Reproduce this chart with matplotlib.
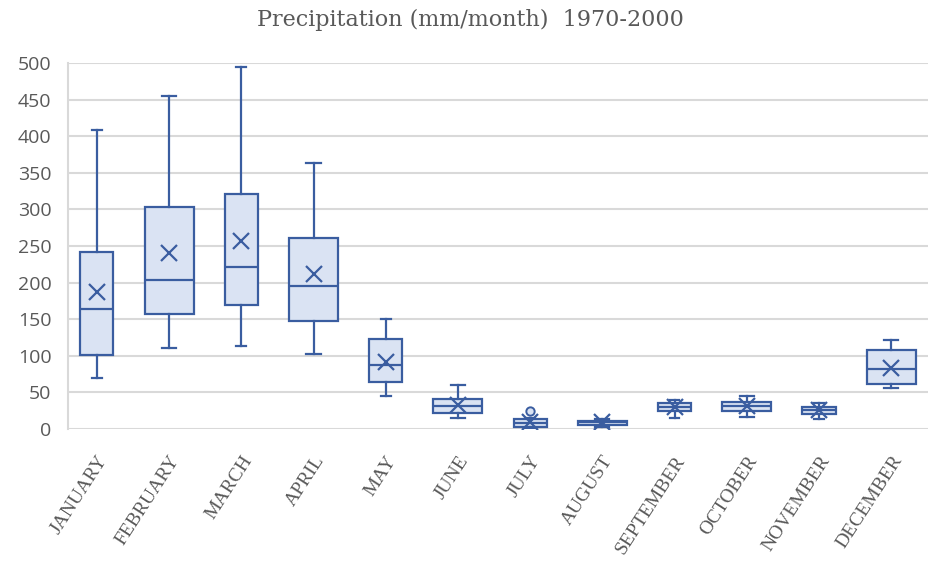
import matplotlib
matplotlib.use("Agg")
import matplotlib.pyplot as plt
import numpy as np

# Monthly precipitation box plot stats (mm/month)
months = ["JANUARY", "FEBRUARY", "MARCH", "APRIL", "MAY", "JUNE",
          "JULY", "AUGUST", "SEPTEMBER", "OCTOBER", "NOVEMBER", "DECEMBER"]
whis_low = [69, 110, 114, 103, 45, 15.5, 1, 3, 14.6, 17, 13.7, 55.6]
q1 = [101, 156.7, 170, 148, 64, 22, 2.5, 6, 25, 25, 20.5, 61]
median = [163.5, 203.5, 221.7, 195, 88, 32, 8, 9, 30, 31, 26, 82]
q3 = [242, 303, 321, 260.5, 123, 41, 13, 11, 35, 37, 30.5, 108]
whis_high = [409, 455, 494, 363, 150, 60, 15, 13, 39.6, 45, 36, 121.6]
mean = [187.6, 240, 257, 212, 92, 33, 10, 9, 30, 31, 26, 83.5]
outliers = [[], [], [], [], [], [], [24.5], [], [], [], [], []]

edge = "#3A5DA0"
fill = "#DAE3F3"
text_col = "#595959"

stats = []
for i in range(len(months)):
    stats.append({"whislo": whis_low[i], "q1": q1[i], "med": median[i],
                  "q3": q3[i], "whishi": whis_high[i], "mean": mean[i],
                  "fliers": outliers[i]})

widths = [0.46 if i % 2 == 0 else 0.68 for i in range(len(months))]
capw = [w * 0.29 for w in widths]

fig = plt.figure(figsize=(9.3, 5.64), dpi=100)
ax = fig.add_axes([68 / 930, 1 - 429 / 564, 1 - 68 / 930 - 2 / 930, (429 - 63) / 564])

ax.bxp(stats, positions=np.arange(len(months)), widths=widths, capwidths=capw,
       showmeans=True, patch_artist=True,
       boxprops=dict(facecolor=fill, edgecolor=edge, linewidth=1.6),
       medianprops=dict(color=edge, linewidth=1.6),
       whiskerprops=dict(color=edge, linewidth=1.6),
       capprops=dict(color=edge, linewidth=1.6),
       meanprops=dict(marker="x", markeredgecolor=edge, markersize=12, markeredgewidth=1.6),
       flierprops=dict(marker="o", markerfacecolor=fill, markeredgecolor=edge,
                       markersize=6, markeredgewidth=1.4))

ax.set_xlim(-0.40, 11.51)
ax.set_ylim(0, 500)
ax.set_yticks(range(0, 501, 50))
ax.yaxis.grid(True, color="#D9D9D9", linewidth=1.5)
ax.set_axisbelow(True)
for s in ["top", "right", "bottom"]:
    ax.spines[s].set_visible(False)
ax.spines["left"].set_color("#D9D9D9")
ax.spines["left"].set_linewidth(1.5)
ax.tick_params(axis="both", length=0, colors=text_col)
for lbl in ax.get_yticklabels():
    lbl.set_fontfamily("Open Sans")
    lbl.set_fontsize(14)
ax.tick_params(axis="y", pad=12)

ax.set_xticks(np.arange(len(months)))
ax.set_xticklabels(months, rotation=57, ha="right", va="top", rotation_mode="anchor",
                   fontfamily="Liberation Serif", fontsize=14, color=text_col)
ax.tick_params(axis="x", pad=17)

fig.text(470 / 930, 1 - 20 / 564, "Precipitation (mm/month)  1970-2000",
         ha="center", va="center", fontfamily="DejaVu Serif", fontsize=16, color=text_col)

fig.savefig("out.png", dpi=100)
